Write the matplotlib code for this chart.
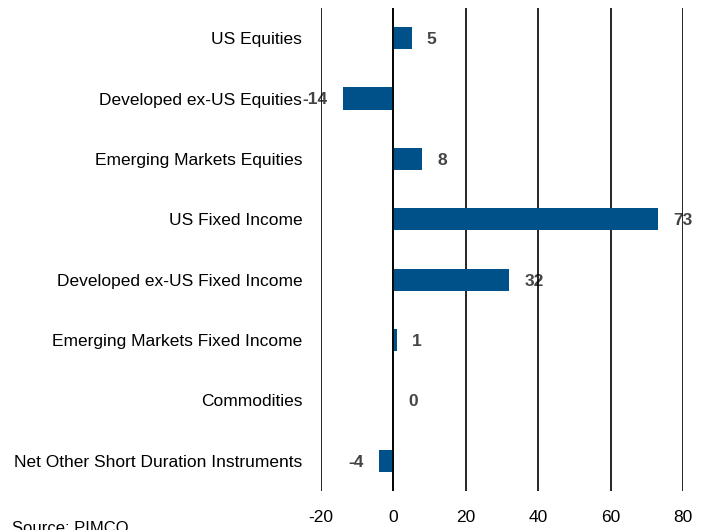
import numpy as np
import matplotlib
matplotlib.use('Agg')
import matplotlib.pyplot as plt

plt.rcParams['font.family'] = ['Liberation Sans', 'DejaVu Sans']

categories = ['US Equities', 'Developed ex-US Equities', 'Emerging Markets Equities',
              'US Fixed Income', 'Developed ex-US Fixed Income',
              'Emerging Markets Fixed Income', 'Commodities',
              'Net Other Short Duration Instruments']
values = [5, -14, 8, 73, 32, 1, 0, -4]
xticks = [-20, 0, 20, 40, 60, 80]

fig = plt.figure(figsize=(7.1, 5.3), dpi=100)
ax = fig.add_axes([321 / 710, 1 - 491 / 530, (683 - 321) / 710, (491 - 8) / 530])

y = np.arange(len(categories))
ax.barh(y, values, height=0.37, color='#00518a', zorder=2)

# vertical grid lines, drawn over the value labels but under the bars
for xv in xticks:
    ax.axvline(xv, color='black', lw=1.2, zorder=1)
ax.axvline(0, color='black', lw=1.2, zorder=3)

for yi, v in zip(y, values):
    off = -11 if v < 0 else 11
    ax.annotate(str(v), (v, yi), xytext=(off, -1), textcoords='offset points',
                ha='right' if v < 0 else 'left', va='center', fontsize=12.5,
                fontweight='bold', color='#444444', zorder=0.5)

ax.set_xlim(-20, 80)
ax.set_ylim(len(categories) - 0.5, -0.5)
ax.set_xticks(xticks)
ax.set_xticklabels([str(t) for t in xticks])
ax.set_yticks(y)
ax.set_yticklabels(categories)
ax.tick_params(axis='y', length=0, pad=13.5, labelsize=12.5)
ax.tick_params(axis='x', length=0, pad=14, labelsize=12.5)
for s in ax.spines.values():
    s.set_visible(False)

fig.text(12 / 710, 1 - 521 / 530, 'Source: PIMCO', ha='left', va='top', fontsize=12)

fig.savefig('out.png', dpi=100)
